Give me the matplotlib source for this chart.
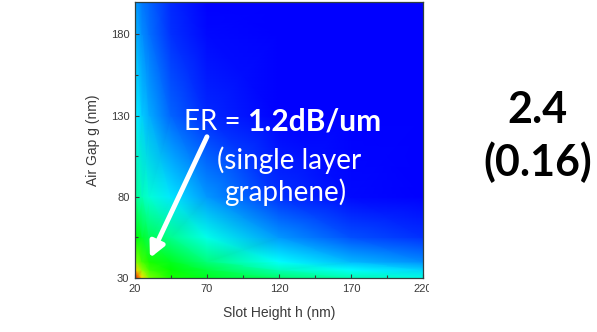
import numpy as np
import matplotlib.pyplot as plt
from matplotlib.colors import LinearSegmentedColormap
from matplotlib.transforms import Bbox, TransformedBbox

# Donnees (valeur normalisee de la carte de couleur)
slot_h = [20, 25, 30, 45, 70, 120, 170, 220]
air_g = [30, 35, 40, 55, 80, 130, 180, 200]
er_norm = [
    [1.00, 0.78, 0.62, 0.52, 0.47, 0.40, 0.33, 0.28],
    [0.80, 0.64, 0.56, 0.50, 0.44, 0.32, 0.25, 0.21],
    [0.64, 0.57, 0.52, 0.47, 0.38, 0.25, 0.18, 0.14],
    [0.50, 0.46, 0.42, 0.36, 0.27, 0.15, 0.08, 0.05],
    [0.36, 0.32, 0.29, 0.23, 0.15, 0.05, 0.01, 0.00],
    [0.24, 0.20, 0.17, 0.10, 0.04, 0.00, 0.00, 0.00],
    [0.18, 0.14, 0.11, 0.05, 0.01, 0.00, 0.00, 0.00],
    [0.16, 0.12, 0.10, 0.04, 0.00, 0.00, 0.00, 0.00],
]
x_ticks = [20, 70, 120, 170, 220]
y_ticks = [30, 80, 130, 180]

rainbow = LinearSegmentedColormap.from_list(
    "rainbow_origin", ["#0000ff", "#00ffff", "#00ff00", "#ffff00", "#ff0000"])

fig = plt.figure(figsize=(5.97, 3.32), dpi=100)
ax = fig.add_axes([0.2261, 0.1627, 0.4824, 0.8313])

H, G = np.meshgrid(slot_h, air_g)
ax.pcolormesh(H, G, np.array(er_norm), cmap=rainbow, vmin=0, vmax=1,
              shading='gouraud')

ax.set_xlim(20, 220)
ax.set_ylim(30, 200)
ax.set_xticks(x_ticks)
ax.set_yticks(y_ticks)
ax.set_xticks([45, 95, 145, 195], minor=True)
ax.set_yticks([55, 105, 155], minor=True)
ax.tick_params(which='both', direction='in', colors='#3a3a3a',
               labelsize=8, pad=4)
ax.tick_params(which='major', length=3, width=0.8)
ax.tick_params(which='minor', length=2, width=0.8)
for lbl in ax.get_xticklabels() + ax.get_yticklabels():
    lbl.set_fontfamily('Liberation Sans')
for s in ax.spines.values():
    s.set_color('#2f3f3f')
    s.set_linewidth(0.9)

ax.set_xlabel('Slot Height h (nm)', fontsize=10, color='#3a3a3a',
              family='Liberation Sans', labelpad=9)
ax.set_ylabel('Air Gap g (nm)', fontsize=10, color='#3a3a3a',
              family='Liberation Sans', labelpad=8)

# texte et fleche
ax.text(93.6, 121, 'ER =', color='white', fontsize=20, family='Lato',
        ha='right', va='baseline')
ax.text(97.8, 121, '1.2dB/um', color='white', fontsize=21.5, family='Lato',
        fontweight='bold', ha='left', va='baseline')
ax.text(127, 102.5, '(single layer', color='white', fontsize=20, family='Lato',
        ha='center', va='center')
ax.text(124, 83, 'graphene)', color='white', fontsize=20, family='Lato',
        ha='center', va='center')
ax.annotate('', xy=(30.4, 42.3), xytext=(70, 117),
            arrowprops=dict(arrowstyle='-|>,head_width=0.45,head_length=0.9',
                            color='white', lw=3.5, shrinkA=0, shrinkB=0))

fig.text(0.9, 0.67, '2.4', fontsize=31, fontweight='bold', family='Lato',
         ha='center', va='center')
fig.text(0.9, 0.51, '(0.16)', fontsize=31, fontweight='bold', family='Lato',
         ha='center', va='center')

# l'etiquette 220 est coupee dans l'original
fig.canvas.draw()
clip = TransformedBbox(Bbox([[0, 0], [0.719, 1]]), fig.transFigure)
last = ax.xaxis.get_major_ticks()[-1].label1
last.set_clip_box(clip)
last.set_clip_on(True)

fig.savefig('out.png', dpi=100)
